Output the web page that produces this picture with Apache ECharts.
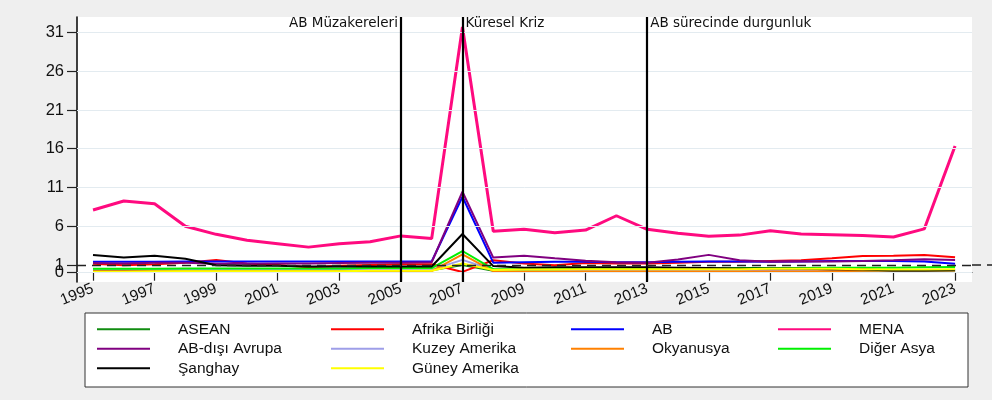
<!DOCTYPE html>
<html>
<head>
<meta charset="utf-8">
<script src="https://cdn.jsdelivr.net/npm/echarts@6/dist/echarts.min.js"></script>
<style>
  html, body { margin: 0; padding: 0; background: #efefef; }
  #chart { width: 992px; height: 400px; }
</style>
</head>
<body>
<div id="chart"></div>
<script>
// yillar
const years = [1995, 1996, 1997, 1998, 1999, 2000, 2001, 2002, 2003, 2004, 2005, 2006, 2007, 2008, 2009,
  2010, 2011, 2012, 2013, 2014, 2015, 2016, 2017, 2018, 2019, 2020, 2021, 2022, 2023]

const asean = [0.35, 0.35, 0.35, 0.35, 0.35, 0.35, 0.3, 0.3, 0.3, 0.3, 0.3, 0.3, 1.0, 0.25, 0.2,
  0.2, 0.2, 0.2, 0.2, 0.2, 0.15, 0.15, 0.15, 0.15, 0.15, 0.15, 0.15, 0.15, 0.2]
const afrika = [1.15, 0.95, 1.1, 1.3, 1.65, 1.2, 1.0, 0.7, 0.9, 1.0, 1.1, 1.1, 0.1, 1.6, 1.2,
  0.95, 1.25, 1.2, 1.2, 1.3, 1.4, 1.4, 1.5, 1.6, 1.85, 2.15, 2.2, 2.3, 2.0]
const ab = [1.4, 1.4, 1.4, 1.45, 1.45, 1.45, 1.45, 1.45, 1.45, 1.45, 1.45, 1.45, 9.8, 1.3, 1.35,
  1.4, 1.4, 1.35, 1.35, 1.4, 1.45, 1.45, 1.4, 1.45, 1.5, 1.5, 1.5, 1.45, 1.15]
const mena = [8.1, 9.25, 8.9, 6.0, 4.95, 4.2, 3.75, 3.3, 3.75, 4.0, 4.75, 4.4, 31.7, 5.35, 5.6,
  5.15, 5.5, 7.35, 5.6, 5.1, 4.7, 4.85, 5.4, 5.0, 4.9, 4.8, 4.6, 5.65, 16.35]
const abDisi = [1.25, 1.2, 1.3, 1.3, 1.15, 1.15, 1.2, 1.2, 1.25, 1.3, 1.3, 1.35, 10.45, 1.95, 2.2,
  1.85, 1.55, 1.35, 1.3, 1.7, 2.3, 1.6, 1.4, 1.45, 1.45, 1.5, 1.6, 1.75, 1.65]
const kuzeyAmerika = [0.4, 0.4, 0.4, 0.4, 0.4, 0.4, 0.4, 0.4, 0.4, 0.4, 0.4, 0.4, 1.65, 0.35, 0.3,
  0.3, 0.3, 0.3, 0.3, 0.3, 0.3, 0.3, 0.3, 0.3, 0.3, 0.3, 0.3, 0.3, 0.3]
const okyanusya = [0.2, 0.2, 0.2, 0.2, 0.2, 0.2, 0.2, 0.2, 0.2, 0.2, 0.2, 0.2, 2.35, 0.2, 0.15,
  0.15, 0.15, 0.15, 0.15, 0.15, 0.15, 0.15, 0.15, 0.15, 0.2, 0.25, 0.3, 0.3, 0.3]
const digerAsya = [0.5, 0.5, 0.5, 0.55, 0.55, 0.55, 0.55, 0.55, 0.55, 0.6, 0.6, 0.6, 2.8, 0.45, 0.45,
  0.45, 0.5, 0.5, 0.55, 0.55, 0.55, 0.6, 0.6, 0.6, 0.65, 0.65, 0.65, 0.7, 0.75]
const sanghay = [2.3, 1.95, 2.2, 1.8, 0.95, 0.9, 0.9, 0.8, 0.8, 0.8, 0.8, 0.8, 5.0, 0.85, 0.65,
  0.7, 0.7, 0.7, 0.7, 0.65, 0.6, 0.55, 0.55, 0.5, 0.45, 0.4, 0.3, 0.3, 0.35]
const guneyAmerika = [0.1, 0.1, 0.15, 0.2, 0.2, 0.2, 0.2, 0.2, 0.2, 0.25, 0.25, 0.25, 1.2, 0.35, 0.4,
  0.4, 0.45, 0.45, 0.45, 0.45, 0.45, 0.45, 0.5, 0.5, 0.5, 0.45, 0.4, 0.4, 0.45]

const yTicks = [0, 6, 11, 16, 21, 26, 31]
const refValue = 1   // ayri eksende etiketlenir (0 ile cakismasin diye)
const xTicks = [1995, 1997, 1999, 2001, 2003, 2005, 2007, 2009, 2011, 2013, 2015, 2017, 2019, 2021, 2023]
const events = [
  { year: 2005, text: 'AB Müzakereleri', side: 'left' },
  { year: 2007, text: 'Küresel Kriz', side: 'right' },
  { year: 2013, text: 'AB sürecinde durgunluk', side: 'right' }
]

const seriesDefs = [
  { name: 'ASEAN', data: asean, color: '#118c11' },
  { name: 'Afrika Birliği', data: afrika, color: '#ff0000' },
  { name: 'AB', data: ab, color: '#0000ff' },
  { name: 'MENA', data: mena, color: '#ff0a7f', width: 3 },
  { name: 'AB-dışı Avrupa', data: abDisi, color: '#800080' },
  { name: 'Kuzey Amerika', data: kuzeyAmerika, color: '#9e9ee8' },
  { name: 'Okyanusya', data: okyanusya, color: '#ff8000' },
  { name: 'Diğer Asya', data: digerAsya, color: '#00f000' },
  { name: 'Şanghay', data: sanghay, color: '#000000' },
  { name: 'Güney Amerika', data: guneyAmerika, color: '#ffff00' }
]

// legend kolonlari
const legendCols = [
  { left: 97, names: ['ASEAN', 'AB-dışı Avrupa', 'Şanghay'] },
  { left: 331, names: ['Afrika Birliği', 'Kuzey Amerika', 'Güney Amerika'] },
  { left: 571, names: ['AB', 'Okyanusya'] },
  { left: 778, names: ['MENA', 'Diğer Asya'] }
]

const FONT = '"Liberation Sans", Arial, sans-serif'
const WIDE_FONT = '"DejaVu Sans", "Liberation Sans", sans-serif'
const Y_MIN = -1.2
const Y_MAX = 33

const yAxisBase = (ticks, showLine) => ({
  type: 'value',
  min: Y_MIN,
  max: Y_MAX,
  position: 'left',
  axisLine: { show: showLine, lineStyle: { color: '#111', width: 1.6 } },
  axisTick: { show: true, length: 10, customValues: ticks, lineStyle: { color: '#222', width: 1.2 } },
  axisLabel: {
    customValues: ticks,
    hideOverlap: false,
    showMinLabel: true,
    showMaxLabel: true,
    margin: 13,
    fontSize: 16.5,
    color: '#111',
    fontFamily: FONT
  },
  splitLine: { show: false }
})

const chart = echarts.init(document.getElementById('chart'))

const option = {
  animation: false,
  backgroundColor: '#efefef',
  textStyle: { fontFamily: FONT },
  grid: {
    left: 77,
    right: 20,
    top: 17,
    bottom: 118,
    show: true,
    backgroundColor: '#ffffff',
    borderWidth: 0
  },
  graphic: [{
    type: 'rect',
    z: 1,
    shape: { x: 85, y: 313, width: 883, height: 74 },
    style: { fill: '#ffffff', stroke: '#333333', lineWidth: 1 }
  }],
  legend: legendCols.map(col => ({
    orient: 'vertical',
    left: col.left,
    top: 321,
    z: 5,
    padding: 0,
    itemGap: 3,
    itemWidth: 53,
    itemHeight: 2.2,
    icon: 'rect',
    selectedMode: false,
    data: col.names,
    textStyle: {
      fontFamily: FONT,
      fontSize: 15.5,
      color: '#111',
      lineHeight: 16.5,
      padding: [0, 0, 0, 23]
    }
  })),
  xAxis: {
    type: 'value',
    min: 1994.48,
    max: 2023.55,
    axisLine: { show: true, lineStyle: { color: '#333', width: 1.2 } },
    axisTick: { show: true, length: 8, customValues: xTicks, lineStyle: { color: '#222', width: 1.2 } },
    axisLabel: {
      customValues: xTicks,
      rotate: 22,
      margin: 6,
      fontSize: 15.5,
      color: '#111',
      fontFamily: FONT,
      formatter: v => String(v)
    },
    splitLine: { show: false }
  },
  yAxis: [yAxisBase(yTicks, true), yAxisBase([refValue], false)],
  series: [
    {
      name: 'ref',
      type: 'line',
      z: 1,
      data: [],
      silent: true,
      markLine: {
        silent: true,
        symbol: 'none',
        label: { show: false },
        data: [
          ...yTicks.map(v => ({
            yAxis: v,
            lineStyle: { color: '#e3ebf0', width: 1, type: 'solid' }
          })),
          ...events.map(e => ({
            xAxis: e.year,
            lineStyle: { color: '#000', width: 2.2, type: 'solid' }
          })),
          {
            yAxis: refValue,
            lineStyle: { color: '#222', width: 1.4, type: [9, 6] }
          }
        ]
      },
      markPoint: {
        silent: true,
        symbolSize: 0,
        data: events.map(e => ({
          coord: [e.year, 32.1],
          label: {
            show: true,
            position: e.side,
            distance: 3,
            formatter: e.text,
            fontSize: 13.5,
            color: '#111',
            fontFamily: WIDE_FONT
          }
        }))
      }
    },
    ...seriesDefs.map(s => ({
      name: s.name,
      type: 'line',
      z: 2,
      symbol: 'none',
      color: s.color,
      lineStyle: { color: s.color, width: s.width || 2 },
      data: years.map((y, i) => [y, s.data[i]])
    }))
  ]
}

chart.setOption(option)

// kesikli referans cizgisi grafigin sagina tasiyor
const refY = chart.convertToPixel({ yAxisIndex: 0 }, refValue)
const rightX = chart.convertToPixel({ xAxisIndex: 0 }, 2023.55)
chart.setOption({
  graphic: [
    option.graphic[0],
    {
      type: 'line',
      z: 1,
      shape: { x1: rightX, y1: refY, x2: 992, y2: refY },
      style: { stroke: '#222', lineWidth: 1.4, lineDash: [9, 6] }
    }
  ]
})
</script>
</body>
</html>
